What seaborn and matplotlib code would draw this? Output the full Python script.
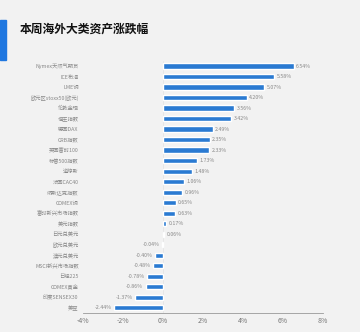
import matplotlib
matplotlib.use("Agg")
import matplotlib.pyplot as plt
import seaborn as sns
import pandas as pd

categories = ["Nymex天然气期货", "ICE布油", "LME铜", "欧元区stoxx50(欧元)", "伦敦金现", "恒生指数",
              "德国DAX", "CRB指数", "英国富时100", "标普500指数", "道琼斯", "法国CAC40",
              "纳斯达克指数", "COMEX铜", "富时新兴市场指数", "美元指数", "日元兑美元", "欧元兑美元",
              "澳元兑美元", "MSCI新兴市场指数", "日经225", "COMEX黄金", "印度SENSEX30", "美豆"]
values = [6.54, 5.58, 5.07, 4.20, 3.56, 3.42,
          2.49, 2.35, 2.33, 1.73, 1.48, 1.06,
          0.96, 0.65, 0.63, 0.17, 0.06, -0.04,
          -0.40, -0.48, -0.78, -0.86, -1.37, -2.44]
xticks = [-4, -2, 0, 2, 4, 6, 8]
xticklabels = ["-4%", "-2%", "0%", "2%", "4%", "6%", "8%"]
title = "本周海外大类资产涨跌幅"

sns.set_theme(style="white")
plt.rcParams['font.family'] = ['Noto Sans CJK SC', 'DejaVu Sans']
plt.rcParams['axes.unicode_minus'] = False

bg = "#f2f2f2"
fig = plt.figure(figsize=(3.6, 3.32), dpi=100, facecolor=bg)
ax = fig.add_axes([0.23, 0.057, 0.667, 0.76])
ax.set_facecolor(bg)

df = pd.DataFrame({"cat": categories, "val": values})
sns.barplot(data=df, x="val", y="cat", orient="h", color="#2a7ad2", width=0.5,
            saturation=1, ax=ax)

for i, v in enumerate(values):
    if v >= 0:
        ax.text(v + 0.12, i, f"{v:.2f}%", va="center", ha="left", fontsize=3.8, color="#888888")
    else:
        ax.text(v - 0.12, i, f"{v:.2f}%", va="center", ha="right", fontsize=3.8, color="#888888")

ax.set_xlim(-4, 8)
ax.set_xticks(xticks)
ax.set_xticklabels(xticklabels, fontsize=5, color="#777777")
ax.set_xlabel("")
ax.set_ylabel("")
ax.tick_params(axis="y", labelsize=3.8, labelcolor="#888888", length=0, pad=3)
ax.tick_params(axis="x", length=2, direction="in", color="#999999", pad=3)
for s in ["top", "right", "left"]:
    ax.spines[s].set_visible(False)
ax.spines["bottom"].set_color("#999999")
ax.spines["bottom"].set_linewidth(0.6)
ax.axvline(0, color="#dddddd", lw=0.4, zorder=0)

fig.text(0.055, 0.912, title, fontsize=8.5, fontweight="bold", color="#111111", va="center")
fig.patches.append(plt.Rectangle((0, 0.82), 0.017, 0.12, transform=fig.transFigure,
                                 color="#1f77e0", figure=fig))

fig.savefig("out.png", dpi=100, facecolor=bg)
